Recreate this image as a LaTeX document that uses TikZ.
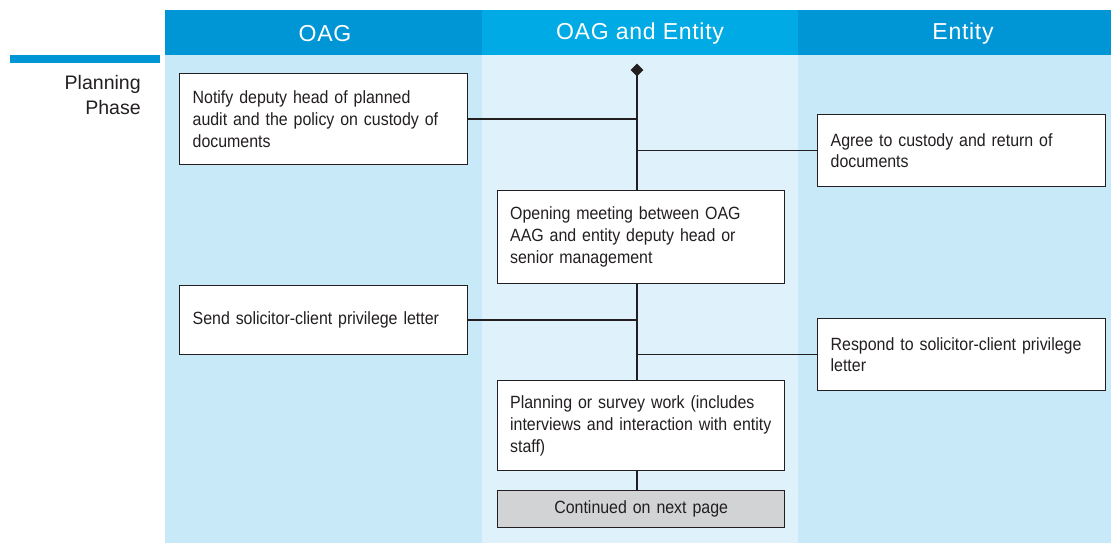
\documentclass[tikz,border=0pt]{standalone}
\usepackage{fontspec}
\setmainfont{Liberation Sans}[FakeStretch=0.90]
\newfontfamily\hdrfont{Liberation Sans}[LetterSpace=3]
\newfontfamily\phasefont{Liberation Sans}
\usepackage{xcolor}
\usepackage{tikz}
\usetikzlibrary{shapes.geometric,positioning,calc}

\definecolor{hdrdark}{RGB}{0,150,214}
\definecolor{hdrlight}{RGB}{0,170,228}
\definecolor{laneblue}{RGB}{199,233,248}
\definecolor{lanepale}{RGB}{223,242,251}
\definecolor{boxgray}{RGB}{209,211,212}
\definecolor{ink}{RGB}{35,31,32}

\newcommand\nohyph{\hyphenpenalty=10000 \exhyphenpenalty=10000 \relax}

\begin{document}
\begin{tikzpicture}[x=0.025cm, y=-0.025cm,
  actbox/.style={draw=ink, line width=0.9pt, fill=white, rectangle, anchor=north west,
    text width=6.55cm, inner xsep=0.3cm, minimum width=7.2cm, align=left, text=ink,
    font=\fontsize{12.6}{15.6}\selectfont\nohyph},
  lanehead/.style={text=white, font=\hdrfont\fontsize{16.4}{18}\selectfont},
  link/.style={draw=ink, line width=1.1pt}]
  \useasboundingbox (0,0) rectangle (1111,543);

  % lanes
  \fill[laneblue] (165,55) rectangle (482,543);
  \fill[lanepale] (482,55) rectangle (798,543);
  \fill[laneblue] (798,55) rectangle (1111,543);
  \fill[hdrdark] (165,10) rectangle (482,55);
  \fill[hdrlight] (482,10) rectangle (798,55);
  \fill[hdrdark] (798,10) rectangle (1111,55);
  \fill[hdrdark] (10,55) rectangle (160,63);

  \node[lanehead] (hOAG) at (325,34) {OAG};
  \node[lanehead] (hBoth) at (640,34) {OAG and Entity};
  \node[lanehead] (hEntity) at (963,34) {Entity};

  \node[anchor=north east, align=right, text=ink, inner sep=0,
    font=\phasefont\fontsize{13.9}{17.8}\selectfont] (phase) at (141,75) {Planning\\Phase};

  % activity boxes
  \node[actbox, minimum height=2.275cm] (notify) at (179,73)
    {Notify deputy head of planned\\audit and the policy on custody of\\documents};
  \node[actbox, minimum height=1.8cm] (agree) at (817,114)
    {Agree to custody and return of\\documents};
  \node[actbox, minimum height=2.325cm, minimum width=7.175cm] (opening) at (497,190)
    {Opening meeting between OAG\\AAG and entity deputy head or\\senior management};
  \node[actbox, minimum height=1.725cm] (send) at (179,285)
    {Send solicitor-client privilege letter};
  \node[actbox, minimum height=1.8cm] (respond) at (817,318)
    {Respond to solicitor-client privilege\\letter};
  \node[actbox, minimum height=2.25cm, minimum width=7.175cm] (planning) at (497,380)
    {Planning or survey work (includes\\interviews and interaction with entity\\staff)};
  \node[actbox, fill=boxgray, align=center, minimum height=0.925cm, minimum width=7.175cm] (cont) at (497,490)
    {Continued on next page};

  % spine
  \node[diamond, fill=ink, inner sep=0, minimum size=0.33cm] (start) at (637,70) {};
  \draw[link] (start.center) -- (opening.north -| start);
  \draw[link] (opening.south -| start) -- (planning.north -| start);
  \draw[link] (planning.south -| start) -- (cont.north -| start);

  % branches
  \draw[link] (notify.east) -- (notify.east -| start);
  \draw[link] (agree.west) -- (agree.west -| start);
  \draw[link] (send.east) -- (send.east -| start);
  \draw[link] (respond.west) -- (respond.west -| start);
\end{tikzpicture}
\end{document}
